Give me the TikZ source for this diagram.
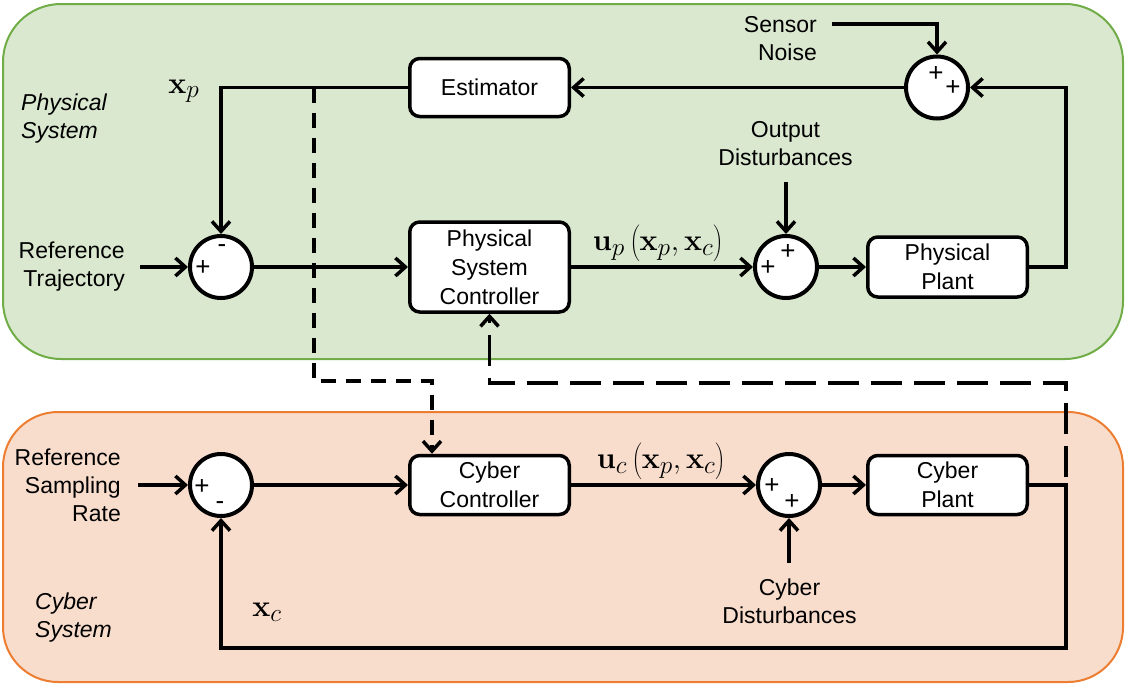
\documentclass[tikz,border=0pt]{standalone}
\usepackage[no-math]{fontspec}
\setmainfont{Liberation Sans}
\usetikzlibrary{arrows.meta,calc}
\definecolor{pgfill}{RGB}{219,232,208}
\definecolor{pgdraw}{RGB}{112,173,71}
\definecolor{cyfill}{RGB}{248,221,204}
\definecolor{cydraw}{RGB}{237,125,49}
\begin{document}
\begin{tikzpicture}[x=1pt,y=-1pt,
  txt/.style={font=\fontsize{23}{28}\selectfont, inner sep=0pt, align=center},
  itl/.style={font=\fontsize{23}{28}\selectfont\itshape, inner sep=0pt, align=left},
  blk/.style={draw, fill=white, line width=3.5pt, rounded corners=10pt, minimum width=159.5pt,
              inner sep=0pt, align=center, font=\fontsize{23}{29}\selectfont},
  sumnode/.style={circle, draw, fill=white, line width=4pt, minimum size=62pt, inner sep=0pt},
  sgn/.style={font=\fontsize{26}{26}\selectfont, inner sep=0pt},
  mlab/.style={font=\fontsize{24.88}{26}\selectfont, inner sep=0pt, scale=1.22},
  conn/.style={line width=3.5pt, -{Straight Barb[length=10pt,width=18pt]}},
  dashone/.style={dash pattern=on 15pt off 10pt},
  dashtwo/.style={dash pattern=on 31pt off 12pt, dash phase=35pt},
  panelp/.style={fill=pgfill, draw=pgdraw, line width=2pt, rounded corners=58pt},
  panelc/.style={fill=cyfill, draw=cydraw, line width=2pt, rounded corners=55pt}]
\useasboundingbox (0,0) rectangle (1129,688);

% panels
\path[panelp] (3,4) rectangle (1123,359);
\path[panelc] (3,412) rectangle (1123,682);

% panel titles
\node[itl, anchor=west] (ptitle) at (21,119) {Physical\\System};
\node[itl, anchor=west] (ctitle) at (35,618) {Cyber\\System};

% physical blocks
\node[blk, minimum height=58pt] (est) at (489.5,87.5) {Estimator};
\node[blk, minimum height=90pt] (psc) at (489.5,267) {Physical\\System\\Controller};
\node[blk, minimum height=60pt] (pplant) at (947.5,267) {Physical\\Plant};
\node[sumnode] (sum1) at (221,267) {};
\node[sumnode] (sum2) at (786,267) {};
\node[sumnode] (sum3) at (937,87.5) {};

% cyber blocks
\node[blk, minimum height=59pt] (ccon) at (489.5,485) {Cyber\\Controller};
\node[blk, minimum height=59pt] (cplant) at (947.5,485) {Cyber\\Plant};
\node[sumnode] (sum4) at (221,485) {};
\node[sumnode] (sum5) at (789,485) {};

% signs
\node[sgn] (s1a) at (222,249) {-};
\node[sgn] (s1b) at (203,268) {+};
\node[sgn] (s2a) at (768,268) {+};
\node[sgn] (s2b) at (788,252) {+};
\node[sgn] (s3a) at (936,74) {+};
\node[sgn] (s3b) at (953,88) {+};
\node[sgn] (s4a) at (202,487) {+};
\node[sgn] (s4b) at (220,506) {-};
\node[sgn] (s5a) at (772,486) {+};
\node[sgn] (s5b) at (792,502) {+};

% labels
\node[txt, align=right, anchor=east] (reftraj) at (125,267) {Reference\\Trajectory};
\node[txt, align=right, anchor=east] (refsamp) at (121,485) {Reference\\Sampling\\Rate};
\node[txt, align=right, anchor=east] (snoise) at (817,38.5) {Sensor\\Noise};
\node[txt] (odist) at (785.5,144) {Output\\Disturbances};
\node[txt] (cdist) at (789.5,601) {Cyber\\Disturbances};
\node[mlab] (xp) at (184,91) {$\mathbf{x}_p$};
\node[mlab] (xc) at (267,612) {$\mathbf{x}_c$};
\node[mlab] (up) at (658,243) {$\mathbf{u}_p\left(\mathbf{x}_p,\mathbf{x}_c\right)$};
\node[mlab] (uc) at (661,461) {$\mathbf{u}_c\left(\mathbf{x}_p,\mathbf{x}_c\right)$};

% free ends
\coordinate (rtin) at (140,267);
\coordinate (rsin) at (138,485);
\coordinate (snin) at (832,24);
\coordinate (odin) at (786,182);
\coordinate (cdin) at (789,563);
\coordinate (pfb) at (1066,87.5);
\coordinate (cp) at (1066,485);
\coordinate (cb) at (1066,648);
\coordinate (tap) at (314,87.5);
\coordinate (d1b) at (432,381);
\coordinate (d2b) at (1066,383);

% physical connectors
\draw[conn] (rtin) -- (sum1.west);
\draw[conn] (sum1.east) -- (psc.west);
\draw[conn] (est.west) -| (sum1.north);
\draw[conn] (psc.east) -- (sum2.west);
\draw[conn] (odin) -- (sum2.north);
\draw[conn] (sum2.east) -- (pplant.west);
\draw[conn] (pplant.east) -| (pfb) -- (sum3.east);
\draw[conn] (snin) -| (sum3.north);
\draw[conn] (sum3.west) -- (est.east);

% cyber connectors
\draw[conn] (rsin) -- (sum4.west);
\draw[conn] (sum4.east) -- (ccon.west);
\draw[conn] (ccon.east) -- (sum5.west);
\draw[conn] (cdin) -- (sum5.south);
\draw[conn] (sum5.east) -- (cplant.west);
\draw[conn] (cplant.east) -- (cp) -- (cb) -| (sum4.south);

% cross links
\draw[conn, dashone] (tap) |- (d1b) -- (d1b |- ccon.north);
\draw[conn, dashtwo] (cp) -- (d2b) -| (psc.south);
\end{tikzpicture}
\end{document}
